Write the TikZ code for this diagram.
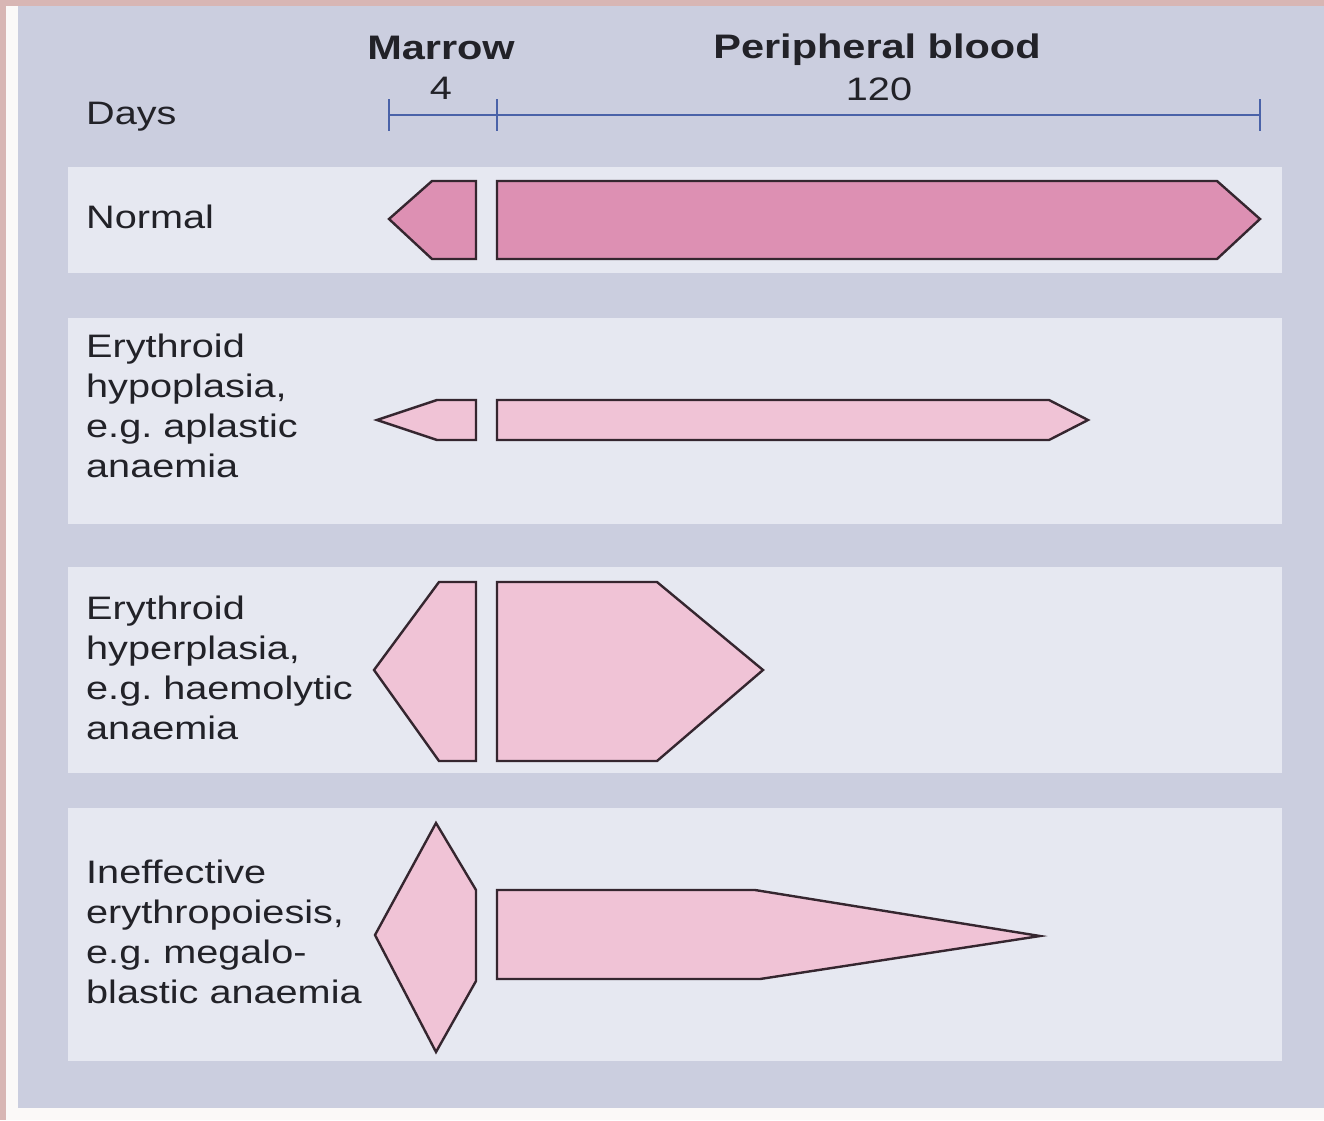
\documentclass[tikz,border=0pt]{standalone}
\usepackage{fontspec}
\setmainfont{Liberation Sans}[FakeStretch=1.22]
\frenchspacing
\definecolor{outerpink}{HTML}{D8B6B4}
\definecolor{whitestrip}{HTML}{FBF9F8}
\definecolor{panelbg}{HTML}{CBCEDF}
\definecolor{rowbg}{HTML}{E6E8F1}
\definecolor{darkpink}{HTML}{DD90B3}
\definecolor{lightpink}{HTML}{F0C3D6}
\definecolor{outline}{HTML}{35262F}
\definecolor{axisblue}{HTML}{4A62A8}
\definecolor{txt}{HTML}{222228}
\tikzset{
  rowpanel/.style={fill=rowbg, draw=none},
  cellshape/.style={draw=outline, line width=2.4pt, line join=miter},
  normalshape/.style={cellshape, fill=darkpink},
  paleshape/.style={cellshape, fill=lightpink},
  axisline/.style={draw=axisblue, line width=2pt},
  lbl/.style={inner sep=0pt, anchor=base west, align=left, text=txt,
    font=\fontsize{32.5}{40}\selectfont\frenchspacing},
  hdr/.style={inner sep=0pt, anchor=base, text=txt,
    font=\fontsize{34}{40}\selectfont\bfseries},
  num/.style={inner sep=0pt, anchor=base, text=txt,
    font=\fontsize{32.5}{40}\selectfont}
}
\begin{document}
\begin{tikzpicture}[x=1pt,y=-1pt]
\useasboundingbox (0,0) rectangle (1324,1120);
% backgrounds
\fill[outerpink] (0,0) rectangle (1324,1120);
\fill[whitestrip] (6,6) rectangle (1324,1120);
\fill[panelbg] (18,6) rectangle (1324,1108);
% row panels
\fill[rowpanel] (68,167) rectangle (1282,273);
\fill[rowpanel] (68,318) rectangle (1282,524);
\fill[rowpanel] (68,567) rectangle (1282,773);
\fill[rowpanel] (68,808) rectangle (1282,1061);
% header
\node[hdr] (marrow) at (441,59) {Marrow};
\node[num] (four) at (441,99) {4};
\node[hdr] (periph) at (877,58) {Peripheral blood};
\node[num] (onetwenty) at (879,100) {120};
\node[lbl] (days) at (86,124) {Days};
% axis
\coordinate (a0) at (389,115);
\coordinate (a2) at (1260,115);
\draw[axisline] (a0) -- (a2);
\draw[axisline] (389,99) -- (389,131);
\draw[axisline] (497,99) -- (497,131);
\draw[axisline] (1260,99) -- (1260,131);
% row labels (anchor = baseline of the last line)
\node[lbl] (lnormal) at (86,228) {Normal};
\node[lbl] (lhypo) at (86,477) {Erythroid\\hypoplasia,\\e.g. aplastic\\anaemia};
\node[lbl] (lhyper) at (86,739) {Erythroid\\hyperplasia,\\e.g. haemolytic\\anaemia};
\node[lbl] (lineff) at (86,1003) {Ineffective\\erythropoiesis,\\e.g. megalo-\\blastic anaemia};
% row 1: normal
\draw[normalshape] (389,219) -- (432,181) -- (476,181) -- (476,259) -- (432,259) -- cycle;
\draw[normalshape] (497,181) -- (1217,181) -- (1260,219) -- (1217,259) -- (497,259) -- cycle;
% row 2: hypoplasia
\draw[paleshape] (377,420) -- (437,400) -- (476,400) -- (476,440) -- (437,440) -- cycle;
\draw[paleshape] (497,400) -- (1049,400) -- (1088,420) -- (1049,440) -- (497,440) -- cycle;
% row 3: hyperplasia
\draw[paleshape] (374,670) -- (439,582) -- (476,582) -- (476,761) -- (439,761) -- cycle;
\draw[paleshape] (497,582) -- (657,582) -- (763,670) -- (657,761) -- (497,761) -- cycle;
% row 4: ineffective
\draw[paleshape] (436,823) -- (476,890) -- (476,981) -- (436,1052) -- (375,935) -- cycle;
\draw[paleshape] (497,890) -- (755,890) -- (1040,936) -- (760,979) -- (497,979) -- cycle;
\end{tikzpicture}
\end{document}
